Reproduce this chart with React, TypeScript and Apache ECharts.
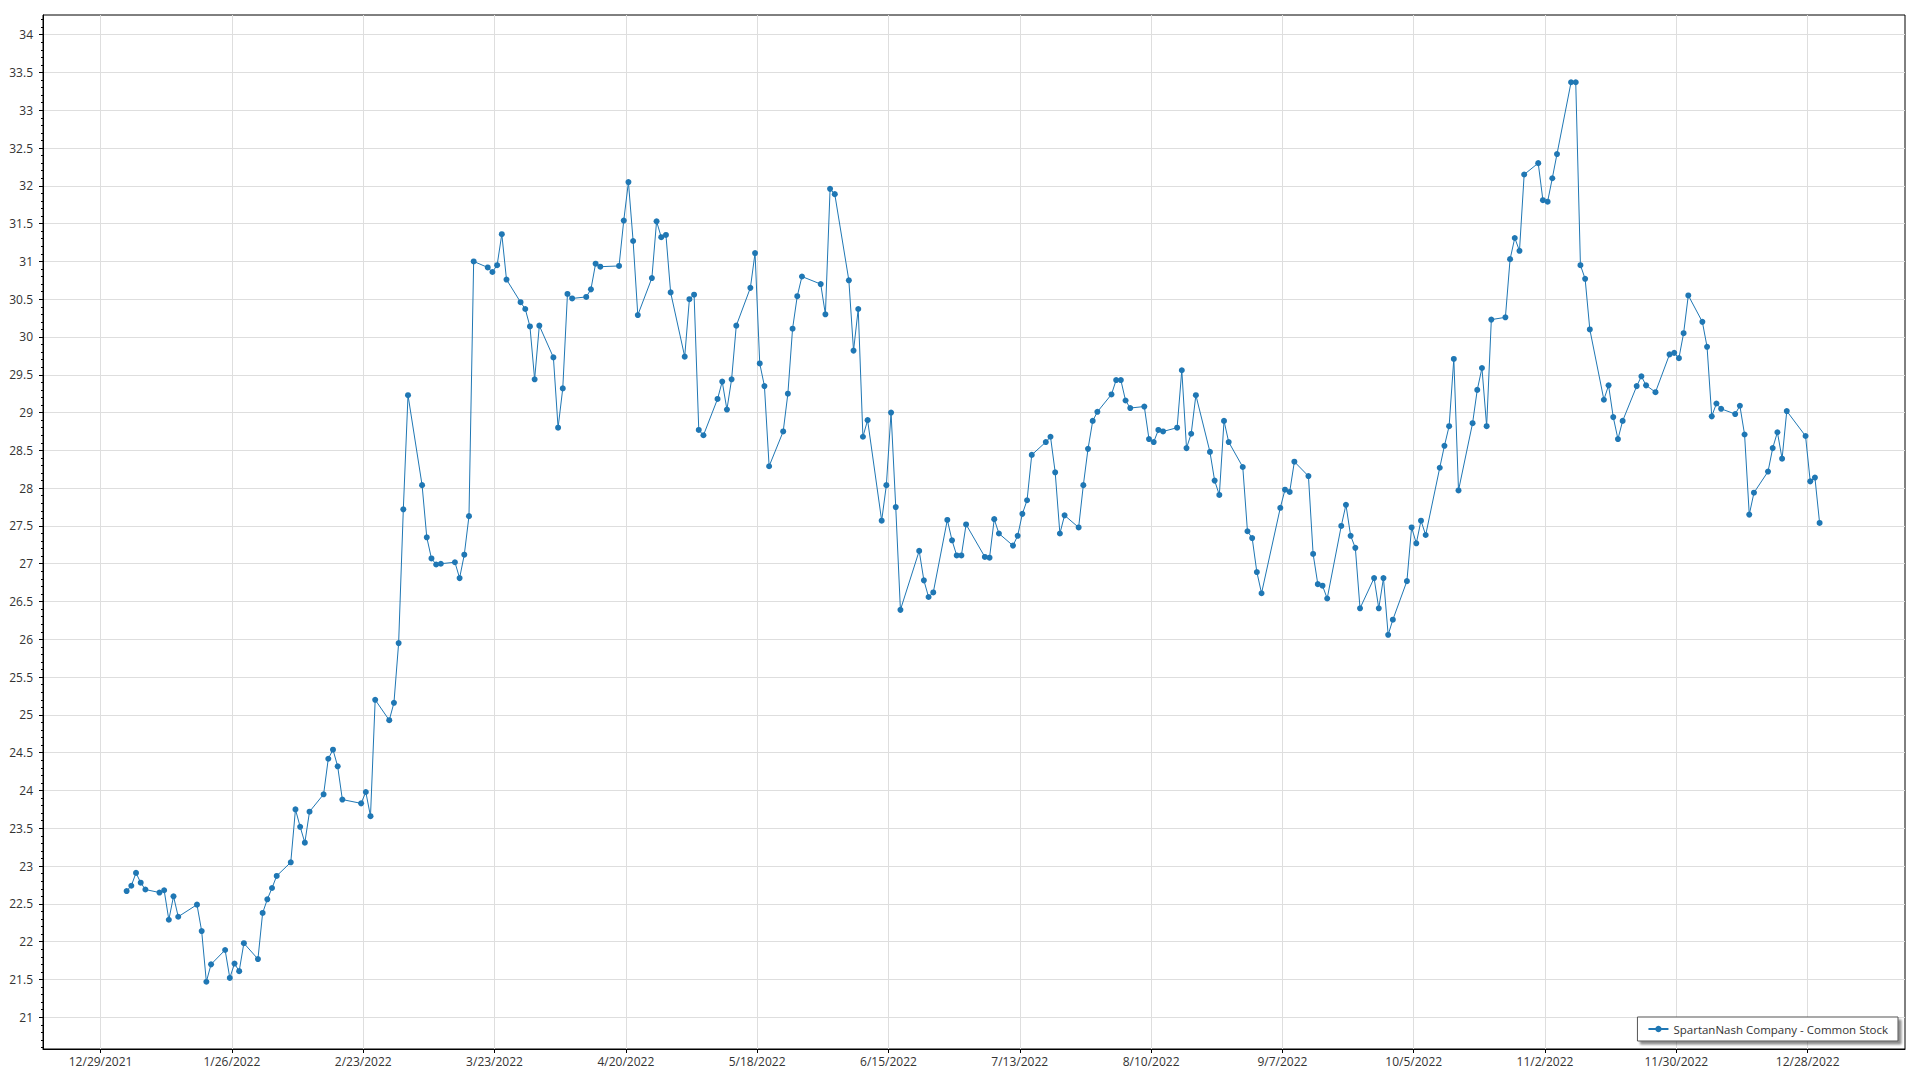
import React, { useEffect, useRef } from "react";
import * as echarts from "echarts";

const seriesName = "SpartanNash Company - Common Stock";

// Trading days of 2022, per month (Jan..Dec)
const tradingDays: number[][] = [
  [3, 4, 5, 6, 7, 10, 11, 12, 13, 14, 18, 19, 20, 21, 24, 25, 26, 27, 28, 31],
  [1, 2, 3, 4, 7, 8, 9, 10, 11, 14, 15, 16, 17, 18, 22, 23, 24, 25, 28],
  [1, 2, 3, 4, 7, 8, 9, 10, 11, 14, 15, 16, 17, 18, 21, 22, 23, 24, 25, 28, 29, 30, 31],
  [1, 4, 5, 6, 7, 8, 11, 12, 13, 14, 18, 19, 20, 21, 22, 25, 26, 27, 28, 29],
  [2, 3, 4, 5, 6, 9, 10, 11, 12, 13, 16, 17, 18, 19, 20, 23, 24, 25, 26, 27, 31],
  [1, 2, 3, 6, 7, 8, 9, 10, 13, 14, 15, 16, 17, 21, 22, 23, 24, 27, 28, 29, 30],
  [1, 5, 6, 7, 8, 11, 12, 13, 14, 15, 18, 19, 20, 21, 22, 25, 26, 27, 28, 29],
  [1, 2, 3, 4, 5, 8, 9, 10, 11, 12, 15, 16, 17, 18, 19, 22, 23, 24, 25, 26, 29, 30, 31],
  [1, 2, 6, 7, 8, 9, 12, 13, 14, 15, 16, 19, 20, 21, 22, 23, 26, 27, 28, 29, 30],
  [3, 4, 5, 6, 7, 10, 11, 12, 13, 14, 17, 18, 19, 20, 21, 24, 25, 26, 27, 28, 31],
  [1, 2, 3, 4, 7, 8, 9, 10, 11, 14, 15, 16, 17, 18, 21, 22, 23, 25, 28, 29, 30],
  [1, 2, 5, 6, 7, 8, 9, 12, 13, 14, 15, 16, 19, 20, 21, 22, 23, 27, 28, 29, 30],
];

const janPrices = [22.67, 22.74, 22.91, 22.78, 22.69, 22.65, 22.68, 22.29, 22.6, 22.33, 22.49, 22.14, 21.47, 21.7, 21.89, 21.52, 21.71, 21.61, 21.98, 21.77];
const febPrices = [22.38, 22.56, 22.71, 22.87, 23.05, 23.75, 23.52, 23.31, 23.72, 23.95, 24.42, 24.54, 24.32, 23.88, 23.83, 23.98, 23.66, 25.2, 24.93];
const marPrices = [25.16, 25.95, 27.72, 29.23, 28.04, 27.35, 27.07, 26.99, 27.0, 27.02, 26.81, 27.12, 27.63, 31.0, 30.92, 30.86, 30.95, 31.36, 30.76, 30.46, 30.37, 30.14, 29.44];
const aprPrices = [30.15, 29.73, 28.8, 29.32, 30.57, 30.51, 30.53, 30.63, 30.97, 30.93, 30.94, 31.54, 32.05, 31.27, 30.29, 30.78, 31.53, 31.32, 31.35, 30.59];
const mayPrices = [29.74, 30.5, 30.56, 28.77, 28.7, 29.18, 29.41, 29.04, 29.44, 30.15, 30.65, 31.11, 29.65, 29.35, 28.29, 28.75, 29.25, 30.11, 30.54, 30.8, 30.7];
const junPrices = [30.3, 31.96, 31.89, 30.75, 29.82, 30.37, 28.68, 28.9, 27.57, 28.04, 29.0, 27.75, 26.39, 27.17, 26.78, 26.56, 26.62, 27.58, 27.31, 27.11, 27.11];
const julPrices = [27.52, 27.09, 27.08, 27.59, 27.4, 27.24, 27.37, 27.66, 27.84, 28.44, 28.61, 28.68, 28.21, 27.4, 27.64, 27.48, 28.04, 28.52, 28.89, 29.01];
const augPrices = [29.24, 29.43, 29.43, 29.16, 29.06, 29.08, 28.65, 28.61, 28.77, 28.75, 28.8, 29.56, 28.53, 28.72, 29.23, 28.48, 28.1, 27.91, 28.89, 28.61, 28.28, 27.43, 27.34];
const sepPrices = [26.89, 26.61, 27.74, 27.98, 27.95, 28.35, 28.16, 27.13, 26.73, 26.71, 26.54, 27.5, 27.78, 27.37, 27.21, 26.41, 26.81, 26.41, 26.81, 26.06, 26.26];
const octPrices = [26.77, 27.48, 27.27, 27.57, 27.38, 28.27, 28.56, 28.82, 29.71, 27.97, 28.86, 29.3, 29.59, 28.82, 30.23, 30.26, 31.03, 31.31, 31.14, 32.15, 32.3];
const novPrices = [31.81, 31.79, 32.1, 32.42, 33.37, 33.37, 30.95, 30.77, 30.1, 29.17, 29.36, 28.94, 28.65, 28.89, 29.35, 29.48, 29.36, 29.27, 29.77, 29.79, 29.72];
const decPrices = [30.05, 30.55, 30.2, 29.87, 28.95, 29.12, 29.05, 28.98, 29.09, 28.71, 27.65, 27.94, 28.22, 28.53, 28.74, 28.39, 29.02, 28.69, 28.09, 28.14, 27.54];

const monthlyPrices = [janPrices, febPrices, marPrices, aprPrices, mayPrices, junPrices, julPrices, augPrices, sepPrices, octPrices, novPrices, decPrices];

const xTickLabels = [
  "12/29/2021", "1/26/2022", "2/23/2022", "3/23/2022", "4/20/2022", "5/18/2022", "6/15/2022",
  "7/13/2022", "8/10/2022", "9/7/2022", "10/5/2022", "11/2/2022", "11/30/2022", "12/28/2022",
];

const yTickLabels = [21, 21.5, 22, 22.5, 23, 23.5, 24, 24.5, 25, 25.5, 26, 26.5, 27, 27.5, 28, 28.5, 29, 29.5, 30, 30.5, 31, 31.5, 32, 32.5, 33, 33.5, 34];

const DAY = 86400000;
const Y_MIN = 20.58;
const Y_MAX = 34.26;
const X_MIN = Date.UTC(2021, 11, 16, 4);
const X_MAX = Date.UTC(2023, 0, 17, 5);
const TICK_SHIFT = 0.55 * DAY;

const parseLabel = (s: string) => {
  const [m, d, y] = s.split("/").map(Number);
  return Date.UTC(y, m - 1, d);
};

const fmtDate = (v: number) => {
  const d = new Date(Math.round((v + TICK_SHIFT) / DAY) * DAY);
  return `${d.getUTCMonth() + 1}/${d.getUTCDate()}/${d.getUTCFullYear()}`;
};

export default function App() {
  const ref = useRef<HTMLDivElement>(null);

  useEffect(() => {
    if (!ref.current) return;
    const chart = echarts.init(ref.current, null, { renderer: "svg" });

    const data: [number, number][] = [];
    tradingDays.forEach((days, mi) => {
      days.forEach((day, di) => {
        data.push([Date.UTC(2022, mi, day), monthlyPrices[mi][di]]);
      });
    });

    const xTicks = xTickLabels.map((s) => parseLabel(s) - TICK_SHIFT);
    const minorTicks: number[] = [];
    for (let i = 206; i <= 342; i++) minorTicks.push(i / 10);

    const font = "'Open Sans', 'Noto Sans', sans-serif";

    chart.setOption({
      animation: false,
      backgroundColor: "#ffffff",
      textStyle: { fontFamily: font },
      grid: {
        left: 43,
        right: 15,
        top: 15,
        bottom: 31,
        containLabel: false,
        outerBoundsMode: "none",
        show: true,
        borderColor: "#000000",
        borderWidth: 1,
        backgroundColor: "transparent",
      },
      legend: {
        show: true,
        data: [seriesName],
        right: 22,
        bottom: 39,
        orient: "horizontal",
        backgroundColor: "#ffffff",
        borderColor: "#555555",
        borderWidth: 1,
        borderRadius: 0,
        padding: [6, 10, 6, 10],
        itemWidth: 20,
        itemHeight: 8,
        shadowColor: "rgba(0,0,0,0.45)",
        shadowBlur: 2,
        shadowOffsetX: 3,
        shadowOffsetY: 3,
        textStyle: { fontSize: 11.5, color: "#333333", fontFamily: font },
      },
      xAxis: {
        type: "value",
        min: X_MIN,
        max: X_MAX,
        axisLine: { show: true, onZero: false, lineStyle: { color: "#000000", width: 1 } },
        axisTick: { show: true, length: 4, customValues: xTicks, lineStyle: { color: "#000000" } },
        axisLabel: {
          customValues: xTicks,
          formatter: (v: number) => fmtDate(v),
          fontSize: 12,
          color: "#333333",
          margin: 6,
          fontFamily: font,
        },
        splitLine: { show: true, lineStyle: { color: "#dedede", width: 1 } },
      },
      yAxis: [
        {
          type: "value",
          min: Y_MIN,
          max: Y_MAX,
          position: "left",
          axisLine: { show: true, onZero: false, lineStyle: { color: "#000000", width: 1 } },
          axisTick: { show: true, length: 4, customValues: yTickLabels, lineStyle: { color: "#000000" } },
          axisLabel: {
            customValues: yTickLabels,
            formatter: (v: number) => String(v),
            fontSize: 12,
            color: "#333333",
            margin: 10,
            fontFamily: font,
          },
          splitLine: { show: true, lineStyle: { color: "#dedede", width: 1 } },
        },
        {
          type: "value",
          min: Y_MIN,
          max: Y_MAX,
          position: "left",
          offset: 0,
          axisLine: { show: false },
          axisTick: { show: true, length: 2, customValues: minorTicks, lineStyle: { color: "#000000" } },
          axisLabel: { show: false },
          splitLine: { show: false },
        },
      ],
      series: [
        {
          name: seriesName,
          type: "line",
          yAxisIndex: 0,
          data,
          symbol: "circle",
          symbolSize: 6,
          showSymbol: true,
          color: "#1f77b4",
          lineStyle: { width: 1, color: "#1f77b4" },
          itemStyle: { color: "#1f77b4" },
          emphasis: { disabled: true },
        },
      ],
    });

    return () => chart.dispose();
  }, []);

  return (
    <div
      ref={ref}
      style={{ position: "absolute", left: 0, top: 0, width: 1920, height: 1080, background: "#fff" }}
    />
  );
}
